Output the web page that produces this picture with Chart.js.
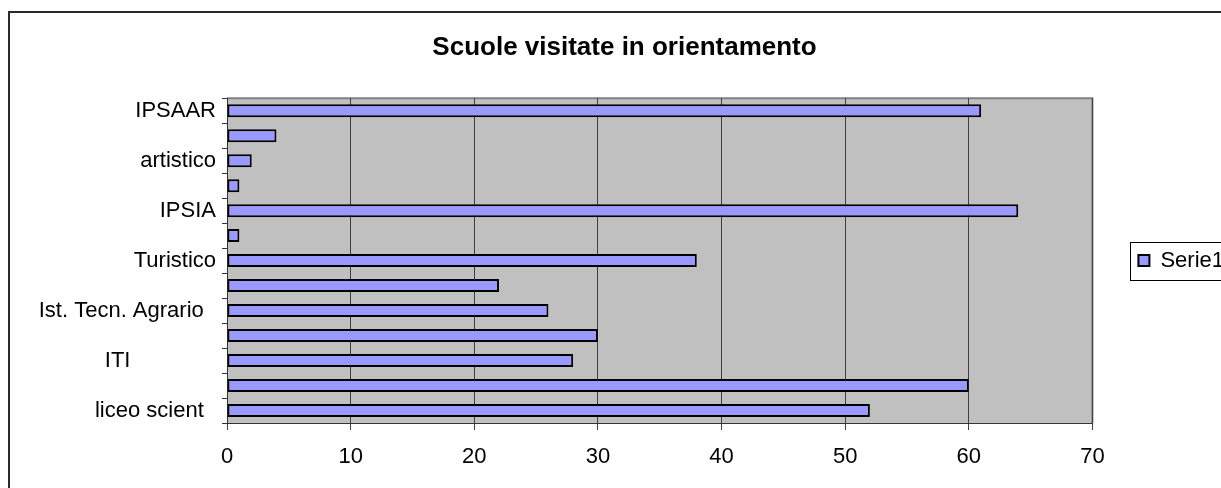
<!DOCTYPE html>
<html>
<head>
<meta charset="utf-8">
<title>Scuole visitate in orientamento</title>
<script src="https://cdn.jsdelivr.net/npm/chart.js@4/dist/chart.umd.min.js"></script>
<style>
  html, body { margin: 0; padding: 0; background: #fff; overflow: hidden; width: 1221px; height: 488px; }
  #frame { position: absolute; left: 8px; top: 11px; width: 1400px; height: 700px;
           border-left: 2px solid #2a2a2a; border-top: 2px solid #2a2a2a; }
  #wrap { position: absolute; left: 0; top: 0; width: 1234px; height: 488px; }
</style>
</head>
<body>
<div id="frame"></div>
<div id="wrap"><canvas id="chart" width="1234" height="488"></canvas></div>
<script>
// Categories listed from the bottom bar upwards; unlabeled rows keep an empty name.
const categories = [
  'liceo scient  ', '', 'ITI              ', '', 'Ist. Tecn. Agrario  ', '',
  'Turistico', '', 'IPSIA', '', 'artistico', '', 'IPSAAR'
];
const visits = [52, 60, 28, 30, 26, 22, 38, 1, 64, 1, 2, 4, 61];
const seriesName = 'Serie1';
const titleText = 'Scuole visitate in orientamento';
const axisMin = 0;
const axisMax = 70;
const axisStep = 10;

const FONT = 'Liberation Sans, Arial, sans-serif';

// Grey plot area with a thin grey frame on top and right
const plotFrame = {
  id: 'plotFrame',
  beforeDraw(chart) {
    const { ctx, chartArea: a } = chart;
    ctx.save();
    ctx.fillStyle = '#c0c0c0';
    ctx.fillRect(a.left, a.top, a.right - a.left, a.bottom - a.top);
    ctx.strokeStyle = '#808080';
    ctx.lineWidth = 2;
    ctx.beginPath();
    ctx.moveTo(a.left, a.top);
    ctx.lineTo(a.right, a.top);
    ctx.lineTo(a.right, a.bottom);
    ctx.stroke();
    ctx.restore();
  }
};

// Box outline around the legend entry
const legendFrame = {
  id: 'legendFrame',
  afterDraw(chart) {
    const lg = chart.legend;
    if (!lg || !lg.legendHitBoxes || !lg.legendHitBoxes.length) return;
    const hb = lg.legendHitBoxes[0];
    const ctx = chart.ctx;
    ctx.save();
    ctx.strokeStyle = '#000';
    ctx.lineWidth = 1;
    ctx.strokeRect(Math.round(hb.left - 8) + 0.5, Math.round(hb.top + hb.height / 2 - 19) + 0.5, 300, 38);
    ctx.restore();
  }
};

new Chart(document.getElementById('chart'), {
  type: 'bar',
  data: {
    labels: categories,
    datasets: [{
      label: seriesName,
      data: visits,
      backgroundColor: '#9999ff',
      borderColor: '#000',
      borderWidth: 2,
      borderSkipped: false,
      barPercentage: 0.52,
      categoryPercentage: 1.0
    }]
  },
  options: {
    indexAxis: 'y',
    responsive: false,
    devicePixelRatio: 1,
    animation: false,
    layout: { padding: { left: 15, right: 0, top: 0, bottom: 0 } },
    plugins: {
      title: {
        display: true,
        text: titleText,
        color: '#000',
        font: { family: FONT, size: 26, weight: 'bold' },
        padding: { top: 32, bottom: 35 }
      },
      legend: {
        display: true,
        position: 'right',
        fullSize: false,
        labels: {
          color: '#000',
          font: { family: FONT, size: 22 },
          boxWidth: 11,
          boxHeight: 11,
          padding: 46
        }
      },
      tooltip: { enabled: false }
    },
    scales: {
      y: {
        type: 'category',
        reverse: true,
        offset: true,
        grid: { offset: true, drawOnChartArea: false, drawTicks: true, tickLength: 5, color: '#333', lineWidth: 1 },
        border: { display: true, color: '#333', width: 1 },
        ticks: { autoSkip: false, color: '#000', font: { family: FONT, size: 22 }, padding: 6 },
        afterFit(scale) { scale.width = 212; }
      },
      x: {
        type: 'linear',
        min: axisMin,
        max: axisMax,
        grid: { color: '#404040', lineWidth: 1, tickLength: 7 },
        border: { display: true, color: '#333', width: 1 },
        ticks: { stepSize: axisStep, color: '#000', font: { family: FONT, size: 22 }, padding: 14 },
        afterFit(scale) { scale.height = 65; }
      }
    }
  },
  plugins: [plotFrame, legendFrame]
});
</script>
</body>
</html>
